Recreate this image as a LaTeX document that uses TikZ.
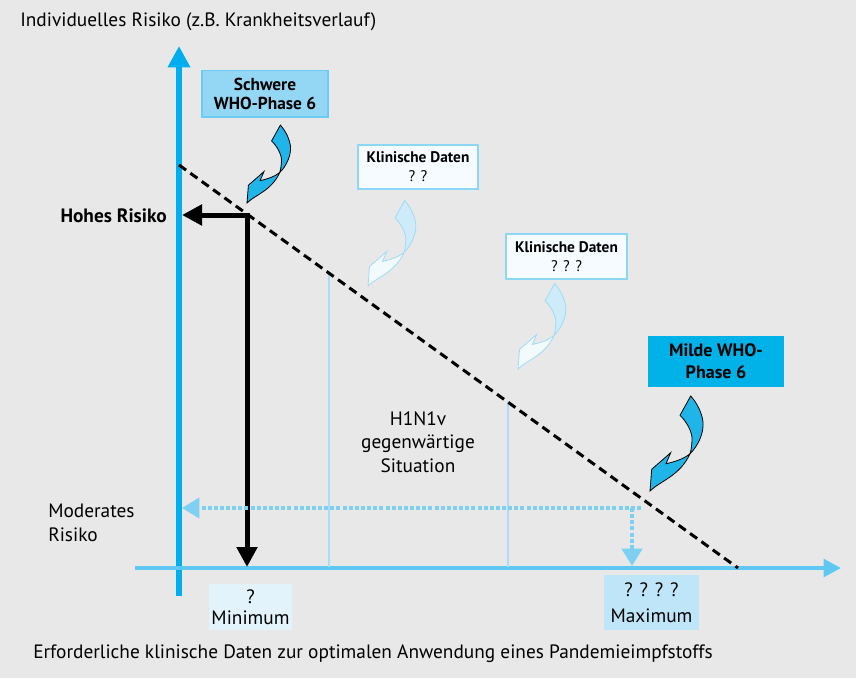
\documentclass[tikz,border=0pt]{standalone}
\usepackage{fontspec}
\setmainfont{PT Sans}
\usetikzlibrary{arrows.meta,positioning}

\definecolor{bggray}{HTML}{E8E8E8}
\definecolor{axcyan}{HTML}{00AEEF}
\definecolor{axlight}{HTML}{5EC8F2}
\definecolor{dotblue}{HTML}{7ED0F2}
\definecolor{thinblue}{HTML}{A8DDF5}
\definecolor{schwerefill}{HTML}{93D7F4}
\definecolor{schwereline}{HTML}{6CCBF0}
\definecolor{klinfill}{HTML}{F5FBFE}
\definecolor{klinline}{HTML}{8ED6F5}
\definecolor{mildefill}{HTML}{00B2E8}
\definecolor{minfill}{HTML}{E2F3FB}
\definecolor{maxfill}{HTML}{BFE6F8}
\definecolor{bendcyan}{HTML}{1FB5E8}
\definecolor{bendpale}{HTML}{CDEBF8}
\definecolor{bendwhite}{HTML}{F3FAFE}
\definecolor{bendpaleline}{HTML}{9FDBF5}

\tikzset{
    vaxis/.style={axcyan, line width=4.5pt, -{Triangle[length=16pt,width=16pt]}},
    haxis/.style={axlight, line width=3pt, -{Triangle[length=13pt,width=13pt]}},
    trend/.style={black, line width=2.25pt, dash pattern=on 6.5pt off 4pt},
    riskarrow/.style={black, line width=3.75pt, -{Triangle[length=15pt,width=15pt]}},
    dotarrow/.style={dotblue, line width=3pt, dash pattern=on 3pt off 1.6pt, -{Triangle[length=13pt,width=15pt]}},
    marker/.style={thinblue, line width=1.5pt},
    labeltext/.style={font=\fontsize{14.5}{17.5}\selectfont, inner sep=0pt},
    phasebox/.style={align=center, inner sep=0pt},
    bendstrong/.style={fill=bendcyan, draw=black, line width=0.6pt},
    bendweaktop/.style={fill=bendpale, draw=bendpaleline, line width=0.6pt},
    bendweakbot/.style={fill=bendwhite, draw=bendpaleline, line width=0.6pt}
}

% twisted arrow, #1 = scale, #2 = style top, #3 = style bottom, #4 = tip
\newcommand{\bendarrow}[4][1]{%
  \filldraw[#2, shift={(#4)}, scale=#1] (40,-37.3)
    .. controls (48,-45) and (54,-58) .. (53,-69)
    .. controls (52,-78) and (47,-88) .. (40.7,-95) -- (30,-75.7)
    .. controls (37,-69) and (43,-58) .. (42,-50)
    .. controls (41.5,-44) and (41,-40) .. cycle;
  \filldraw[#3, shift={(#4)}, scale=#1] (40,-37.3)
    .. controls (34,-32) and (24,-29) .. (16,-27.3) -- (20.7,-38.3)
    -- (1.7,-21.7) -- (0,0)
    .. controls (10,-10) and (30,-15) .. cycle;}

\begin{document}
\begin{tikzpicture}[x=0.75pt, y=-0.75pt]

  \fill[bggray] (0,0) rectangle (856,678);
  \useasboundingbox (0,0) rectangle (856,678);

  % axes
  \coordinate (vbot) at (179,596);
  \coordinate (vtop) at (179,46);
  \coordinate (hleft) at (135,568);
  \coordinate (hright) at (841,568);
  \draw[vaxis] (vbot) -- (vtop);
  \draw[haxis] (hleft) -- (hright);

  % markers for clinical data
  \coordinate (mk1) at (329,272);
  \coordinate (mk1b) at (329,567);
  \coordinate (mk2) at (508,401);
  \coordinate (mk2b) at (508,567);
  \draw[marker] (mk1) -- (mk1b);
  \draw[marker] (mk2) -- (mk2b);

  % trend
  \coordinate (tstart) at (179,165);
  \coordinate (tend) at (738,568);
  \draw[trend] (tstart) -- (tend);

  % high risk
  \coordinate (hicorner) at (247,215);
  \coordinate (hiY) at (182,215);
  \coordinate (hiX) at (247,567);
  \draw[black, line width=3.75pt] (hicorner) -- ++(3,0);
  \draw[riskarrow] (hicorner) -- (hiY);
  \draw[riskarrow] (hicorner) -- (hiX);

  % moderate risk
  \coordinate (mostart) at (641,508);
  \coordinate (mocorner) at (632,508);
  \coordinate (moY) at (182,508);
  \coordinate (moX) at (632,566);
  \draw[dotarrow] (mostart) -- (moY);
  \draw[dotarrow] (mocorner) -- (moX);

  % texts
  \node[labeltext, anchor=west] (title) at (20,22) {Individuelles Risiko (z.B. Krankheitsverlauf)};
  \node[labeltext, anchor=west] (bottom) at (33,654) {Erforderliche klinische Daten zur optimalen Anwendung eines Pandemieimpfstoffs};
  \node[labeltext, anchor=east, font=\fontsize{14.5}{17}\selectfont\bfseries] (hohes) at (167,216) {Hohes Risiko};
  \node[labeltext, anchor=west, align=left, font=\fontsize{14.5}{18}\selectfont] (moderat) at (48,523) {Moderates\\Risiko};
  \node[labeltext, align=center] (h1n1) at (418,442) {H1N1v\\gegenwärtige\\Situation};

  % boxes
  \node[phasebox, fill=schwerefill, draw=schwereline, line width=1pt, font=\fontsize{13}{14.25}\selectfont\bfseries,
        minimum width=94.5pt, minimum height=35pt] (schwere) at (265,93.5) {Schwere\\WHO-Phase 6};
  \node[phasebox, fill=klinfill, draw=klinline, line width=1pt, font=\fontsize{11.5}{14.25}\selectfont,
        minimum width=90pt, minimum height=33pt] (klin1) at (418,167) {\textbf{Klinische Daten}\\? ?};
  \node[phasebox, fill=klinfill, draw=klinline, line width=1pt, font=\fontsize{11.5}{14.25}\selectfont,
        minimum width=90.75pt, minimum height=33.75pt] (klin2) at (566.5,256.5) {\textbf{Klinische Daten}\\? ? ?};
  \node[phasebox, fill=mildefill, font=\fontsize{13.5}{16.5}\selectfont\bfseries,
        minimum width=102pt, minimum height=38pt] (milde) at (716,361.5) {Milde WHO-\\Phase 6};
  \node[labeltext, fill=minfill, align=center, font=\fontsize{14.5}{15.75}\selectfont,
        minimum width=62pt, minimum height=34.5pt] (minbox) at (250.5,607) {?\\Minimum};
  \node[labeltext, fill=maxfill, align=center, font=\fontsize{14.5}{19.5}\selectfont,
        minimum width=71pt, minimum height=41pt] (maxbox) at (651.5,602.5) {? ? ? ?\\Maximum};

  % bent arrows
  \coordinate (tipS) at (247,203);
  \coordinate (tipK1) at (368,286);
  \coordinate (tipK2) at (518,369);
  \coordinate (tipM) at (650,491);
  \bendarrow[0.82]{bendstrong}{bendstrong}{tipS}
  \bendarrow[0.9]{bendweaktop}{bendweakbot}{tipK1}
  \bendarrow[0.9]{bendweaktop}{bendweakbot}{tipK2}
  \bendarrow{bendstrong}{bendstrong}{tipM}

\end{tikzpicture}
\end{document}
